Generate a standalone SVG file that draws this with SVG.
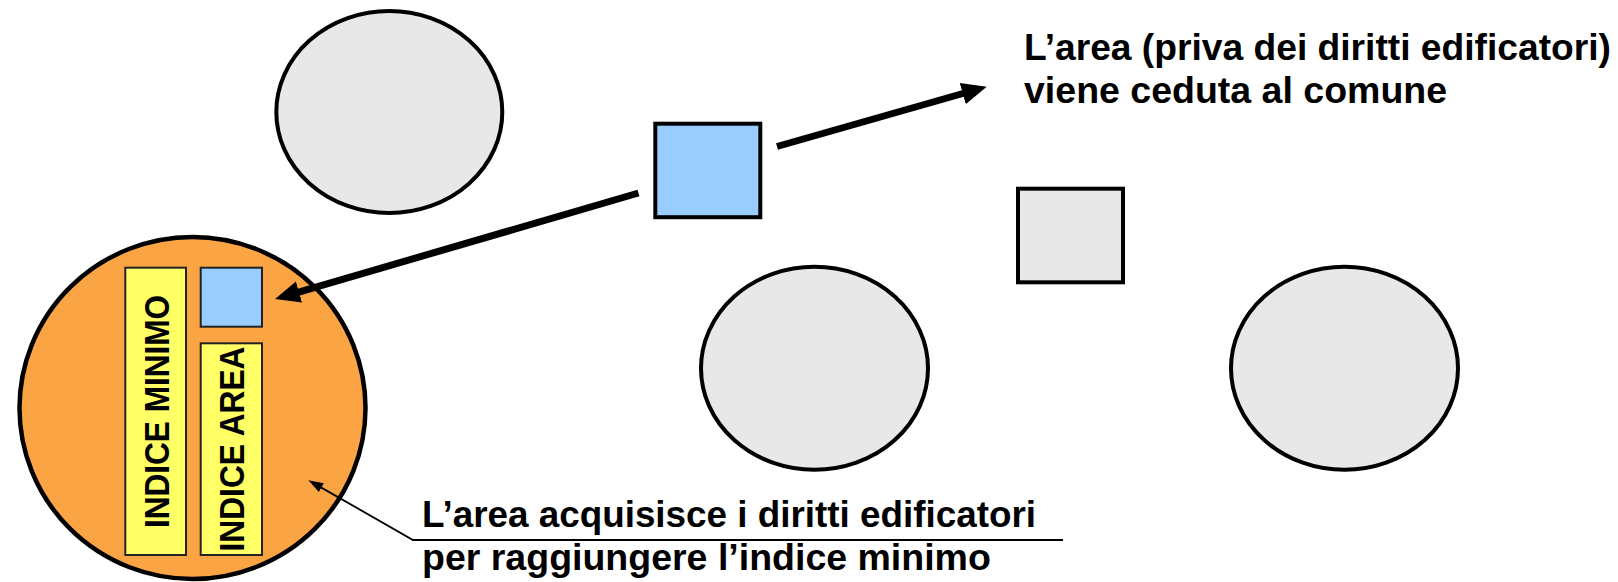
<svg xmlns="http://www.w3.org/2000/svg" width="1618" height="582" viewBox="0 0 1618 582">
  <style>
    .plot { fill: #E8E8E8; stroke: #000; stroke-width: 4; }
    .blue { fill: #99CCFF; stroke: #000; stroke-width: 4; }
    .blue-small { fill: #99CCFF; stroke: #222; stroke-width: 2; }
    .index { fill: #FFFF66; stroke: #222; stroke-width: 2; }
    .label { font-family: "Liberation Sans", Arial, sans-serif; font-weight: bold; font-size: 37.5px; fill: #000; }
    .vlabel { font-family: "Liberation Sans", Arial, sans-serif; font-weight: bold; font-size: 35px; fill: #000; }
    .thick { stroke: #000; stroke-width: 7; fill: none; }
    .leader { stroke: #000; stroke-width: 1.8; fill: none; }
  </style>
  <defs>
    <marker id="bigHead" markerUnits="userSpaceOnUse" markerWidth="30" markerHeight="26" viewBox="0 -13 30 26" refX="2" refY="0" orient="auto">
      <path d="M0,-11 L25,0 L0,11 Z" fill="#000"/>
    </marker>
    <marker id="smallHead" markerUnits="userSpaceOnUse" markerWidth="18" markerHeight="14" viewBox="0 -7 18 14" refX="1" refY="0" orient="auto">
      <path d="M0,-5 L15,0 L0,5 Z" fill="#000"/>
    </marker>
  </defs>

  <!-- plots of land -->
  <g id="plot-top-left">
    <ellipse class="plot" cx="389.3" cy="112" rx="113" ry="101"/>
  </g>
  <g id="plot-middle">
    <ellipse class="plot" cx="814.5" cy="368.3" rx="113.5" ry="101.5"/>
  </g>
  <g id="plot-right">
    <ellipse class="plot" cx="1344.5" cy="368.3" rx="113.5" ry="101.5"/>
  </g>
  <g id="grey-square">
    <rect class="plot" x="1018" y="188.7" width="105" height="93.6"/>
  </g>
  <g id="blue-square">
    <rect class="blue" x="655.3" y="123.7" width="105" height="93.5"/>
  </g>

  <!-- receiving area with its indices -->
  <g id="receiving-area">
    <ellipse cx="192.5" cy="408" rx="173" ry="171" fill="#FBA444" stroke="#000" stroke-width="4.5"/>
  </g>
  <g id="indice-minimo">
    <rect class="index" x="125.3" y="267.7" width="60.7" height="287.3"/>
    <text class="vlabel" transform="translate(168.5,528) rotate(-90)" textLength="233" lengthAdjust="spacingAndGlyphs">INDICE MINIMO</text>
  </g>
  <g id="blue-square-moved">
    <rect class="blue-small" x="200.7" y="267.7" width="61.3" height="59"/>
  </g>
  <g id="indice-area">
    <rect class="index" x="200.7" y="343.3" width="61.3" height="211.7"/>
    <text class="vlabel" transform="translate(243.5,551.5) rotate(-90)" textLength="205" lengthAdjust="spacingAndGlyphs">INDICE AREA</text>
  </g>

  <!-- texts -->
  <g id="label-ceduta">
    <text class="label" x="1024" y="60" textLength="587" lengthAdjust="spacingAndGlyphs">L’area (priva dei diritti edificatori)</text>
    <text class="label" x="1024" y="103">viene ceduta al comune</text>
  </g>
  <g id="label-acquisisce">
    <text class="label" x="422" y="527" textLength="614" lengthAdjust="spacingAndGlyphs">L’area acquisisce i diritti edificatori</text>
    <text class="label" x="422" y="570">per raggiungere l’indice minimo</text>
  </g>

  <!-- connectors -->
  <g id="connectors">
    <line class="thick" x1="777" y1="146.5" x2="964.6" y2="93" marker-end="url(#bigHead)"/>
    <line class="thick" x1="638.5" y1="193" x2="297.1" y2="292.6" marker-end="url(#bigHead)"/>
    <polyline class="leader" points="1063,540 413,540 320.5,487.1" marker-end="url(#smallHead)"/>
  </g>
</svg>
